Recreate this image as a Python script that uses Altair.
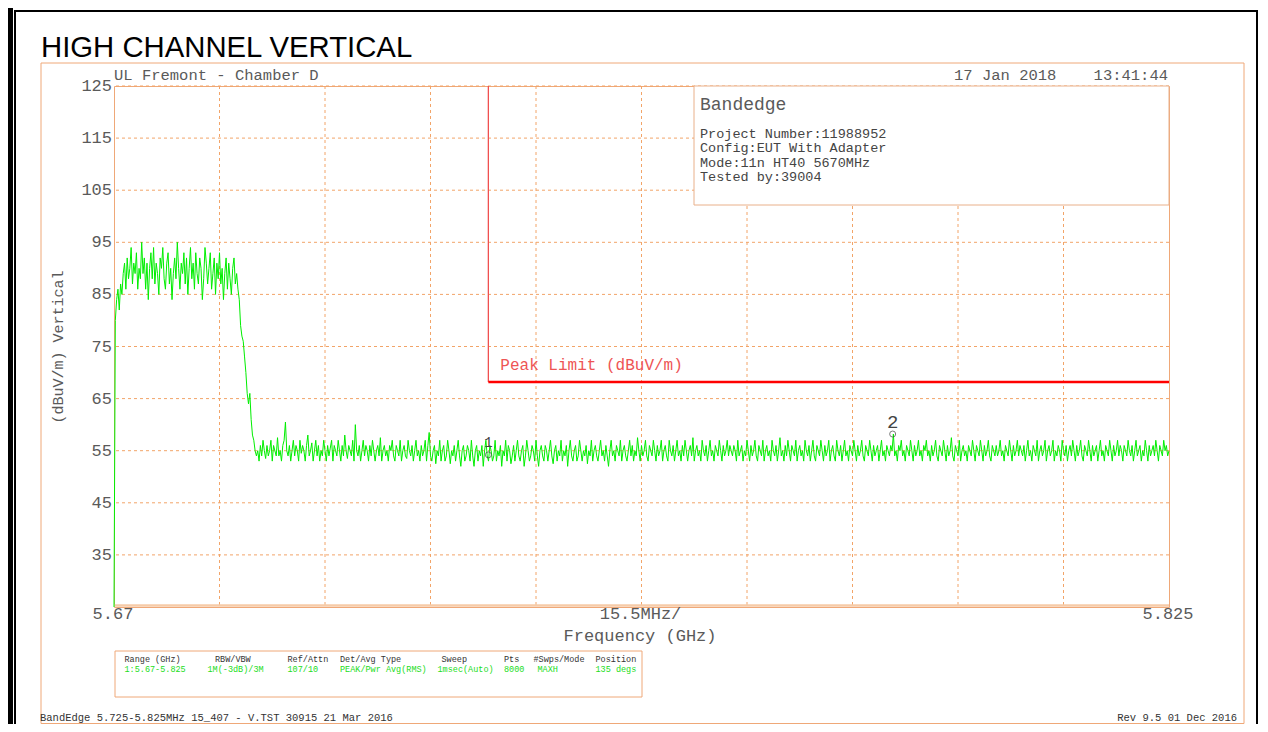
import altair as alt
import pandas as pd

# ---------------- data ----------------
F_START, F_STOP = 5.67, 5.825

inband = [
    25, 80, 84, 86, 82, 87, 85, 89, 91, 86, 92, 88, 90, 94, 87, 91, 89, 93, 86, 90,
    88, 95, 89, 92, 86, 91, 84, 90, 93, 88, 94, 87, 91, 89, 85, 92, 90, 94, 88, 86,
    91, 93, 87, 90, 84, 89, 92, 88, 95, 90, 86, 91, 89, 93, 87, 92, 85, 90, 94, 88,
    91, 86, 93, 89, 87, 92, 90, 84, 88, 94, 91, 87, 90, 93, 86, 89, 92, 85, 91, 88,
    93, 87, 90, 84, 89, 92, 86, 91, 88, 85, 90, 92, 87, 89,
]
rolloff = [86, 84, 79, 77, 76, 73, 70, 66, 64, 66, 61, 58, 57, 55, 54]
floor_rows = [
    [55, 53, 56, 54, 57, 55, 53.5, 56, 54, 55, 57, 53, 56, 55, 54, 57.5, 54, 55, 53, 56],
    [57, 60.5, 55, 54, 56, 53, 55, 57, 54, 56, 55, 53, 57, 54.5, 56, 55, 53, 56, 58, 54],
    [55, 56.5, 53, 55, 57, 54, 56, 53, 55, 54, 57, 55, 53, 56, 54, 55.5, 57, 53, 56, 55],
    [54, 57, 55, 53, 56, 54, 58, 55, 53.5, 56, 55, 54, 57, 53, 60, 55, 54, 56, 53, 55],
    [57, 54, 56, 55, 53, 56, 54, 57, 55, 53, 55, 56, 54, 57.5, 53, 55, 56, 54, 55, 53],
    [56, 55, 57, 54, 53, 56, 55, 54, 57, 53, 55, 56, 54, 53.5, 57, 55, 54, 56, 53, 55],
    [57, 54, 55, 53, 56, 54, 55, 57, 53, 56, 58.5, 54, 53, 55, 56, 52.5, 55, 54, 57, 53],
    [55, 56, 53, 54, 57, 55, 52.5, 55, 54, 56, 53, 55, 57, 54, 52, 55, 56, 53, 54, 56],
    [55, 53, 57, 54, 52, 55, 56, 53, 55, 54, 56, 52, 55, 57, 54, 53, 56, 55, 53, 54],
    [57, 53, 55, 54, 56, 52, 55, 54, 57, 53, 56, 55, 52.5, 54, 56, 53, 55, 57, 54, 53],
    [55, 56, 52, 54, 57, 55, 53, 54, 56, 55, 53, 57, 54, 52, 55, 56, 54, 53, 56, 55],
    [53, 55, 57, 54, 52.5, 55, 56, 53, 55, 54, 57, 53, 55, 54, 56, 52, 55, 57, 54, 53],
    [55, 56, 53, 54, 57, 55, 53, 55, 54, 56, 52.5, 55, 54, 57, 53, 55, 56, 54, 53, 55],
    [57, 54, 55, 53, 56, 54, 52, 55, 57, 54, 55, 53, 56, 55, 54, 57, 53, 55, 56, 54],
    [53, 55, 57, 54, 56, 53, 55, 54, 57.5, 55, 53, 56, 54, 55, 57, 54, 53, 56, 55, 54],
    [57, 55, 53, 56, 54, 55, 57, 53, 55, 56, 54, 53, 57, 55, 54, 56, 53, 55, 57, 54],
    [55, 53, 56, 54, 57, 55, 53, 55, 56, 54, 57.5, 53, 55, 56, 54, 55, 53, 57, 55, 54],
    [56, 53, 55, 57, 54, 55, 53, 56, 55, 54, 57, 55, 53, 56, 54, 55, 57, 54, 56, 55],
    [54, 56, 55, 53, 57, 54, 55, 56, 53, 55, 54, 57, 55, 53, 56, 54, 55, 57, 54, 53],
    [56, 55, 54, 57, 53, 55, 56, 54, 55, 53, 57, 55, 54, 56, 53, 55, 57.5, 54, 55, 53],
    [56, 54, 57, 55, 53, 56, 55, 54, 57, 53, 55, 56, 54, 55, 53, 57, 55, 54, 56, 53],
    [55, 57, 54, 53, 56, 55, 54, 57, 55, 53, 56, 54, 55, 57, 53, 55, 56, 54, 53, 57],
    [55, 54, 56, 53, 55, 57, 54, 55, 53, 56, 55, 54, 57, 55, 53, 56, 54, 55, 57, 54],
    [53, 56, 55, 54, 57, 55, 53, 56, 54, 55, 56, 53, 55, 57, 54, 55, 53, 56, 55, 54],
    [56, 55, 58.2, 54, 55, 53, 56, 55, 57, 54, 55, 53, 56, 55, 54, 57, 55, 53, 56, 54],
    [55, 57, 54, 55, 53, 56, 55, 57, 54, 55, 53, 56, 54, 55, 57, 54, 53, 56, 55, 54],
    [57, 55, 53, 56, 54, 55, 57.5, 54, 53, 56, 55, 54, 57, 53, 55, 56, 54, 55, 53, 56],
    [55, 54, 57, 55, 53, 56, 55, 54, 57, 55, 53, 56, 54, 55, 57, 54, 53, 56, 55, 54],
    [56, 54, 55, 57, 54, 55, 53, 56, 55, 54, 57, 55, 53, 56, 54, 55, 57, 54, 56, 55],
    [54, 56, 53, 55, 57, 54, 55, 53, 56, 55, 54, 57, 53, 55, 56, 54, 55, 57, 53, 55],
    [56, 54, 55, 57, 53, 55, 54, 56, 55, 53, 57, 55, 54, 56, 53, 55, 56, 54, 57, 55],
    [53, 56, 54, 55, 57, 54, 53, 56, 55, 54, 57, 55, 53, 56, 54, 55, 56, 53, 55, 57],
    [54, 55, 53, 56, 55, 54, 57, 55, 53, 56, 54, 55, 57, 54, 56, 55, 53, 56, 55, 54],
    [57, 55, 54, 56, 53, 55, 57, 54, 55, 56, 53, 55, 54, 57, 55, 53, 56, 54, 55, 56],
    [54, 57, 55, 53, 56, 55, 54, 57, 55, 56, 54, 55],
]
levels = inband + rolloff + [v for row in floor_rows for v in row]
N_PTS = len(levels)
freqs = [F_START + i * (F_STOP - F_START) / (N_PTS - 1) for i in range(N_PTS)]

y_ticks = [125, 115, 105, 95, 85, 75, 65, 55, 45, 35]
x_grid = [5.6855, 5.701, 5.7165, 5.732, 5.7475, 5.763, 5.7785, 5.794, 5.8095]
x_label_pos = [5.67, 5.7475, 5.825]
x_labels = ["5.67", "15.5MHz/", "5.825"]

limit_freq = 5.725
limit_level = 68.2
limit_text = "Peak Limit (dBuV/m)"

marker_names = ["1", "2"]
marker_freqs = [5.725, 5.7844]
marker_levels = [54.2, 58.2]

NB = "\u00a0"
title_text = "HIGH CHANNEL VERTICAL"
header_left = "UL Fremont - Chamber D"
header_right = "17 Jan 2018" + NB * 4 + "13:41:44"
info_title = "Bandedge"
info_lines = ["Project Number:11988952", "Config:EUT With Adapter",
              "Mode:11n HT40 5670MHz", "Tested by:39004"]
table_heads = ["Range (GHz)", "RBW/VBW", "Ref/Attn", "Det/Avg Type", "Sweep", "Pts",
               "#Swps/Mode", "Position"]
table_vals = ["1:5.67-5.825", "1M(-3dB)/3M", "107/10", "PEAK/Pwr Avg(RMS)", "1msec(Auto)",
              "8000", "MAXH", "135 degs"]
footer_left = "BandEdge 5.725-5.825MHz 15_407 - V.TST 30915 21 Mar 2016"
footer_right = "Rev 9.5 01 Dec 2016"
y_title = "(dBuV/m) Vertical"
x_title = "Frequency (GHz)"

# ---------------- layout / style ----------------
PX0, PY0 = 114, 86          # page position of plot origin
W, H = 1055, 521
MONO = "Liberation Mono"
ORANGE = "#EFA878"
GRID = "#F2A468"
GREY = "#5a5a5a"
head_x = [124.5, 215, 287.5, 340, 441.5, 504, 533.5, 595.5]
val_x = [124.5, 207.5, 287.5, 340, 437.5, 504, 537.5, 595.5]


def lx(px):
    return px - PX0


def ly(py):
    return py - PY0


ONE = alt.Data(values=[{"k": 0}])
xs = alt.Scale(domain=[F_START, F_STOP], nice=False, zero=False)
ys = alt.Scale(domain=[25, 125], nice=False, zero=False)


def txt(t, px, py, size, color=GREY, align="left", baseline="alphabetic", font=MONO, angle=0):
    return alt.Chart(ONE).mark_text(text=t, align=align, baseline=baseline, font=font,
                                    fontSize=size, color=color, angle=angle).encode(
        x=alt.value(lx(px)), y=alt.value(ly(py)))


def box(x1, y1, x2, y2, stroke, sw=1, fill=None):
    kw = dict(stroke=stroke, strokeWidth=sw)
    if fill is None:
        kw["fillOpacity"] = 0
        kw["fill"] = "white"
    else:
        kw["fill"] = fill
    return alt.Chart(ONE).mark_rect(**kw).encode(
        x=alt.value(lx(x1)), x2=alt.value(lx(x2)), y=alt.value(ly(y1)), y2=alt.value(ly(y2)))


layers = []
# page frames
layers.append(alt.Chart(ONE).mark_rect(color="black").encode(
    x=alt.value(lx(8)), x2=alt.value(lx(13)), y=alt.value(ly(8)), y2=alt.value(ly(724))))
layers.append(box(15, 11, 1257, 729, "black", sw=2))
layers.append(box(41, 63, 1244, 723.5, ORANGE, sw=1))

# grid
layers.append(alt.Chart(pd.DataFrame({"level": y_ticks})).mark_rule(
    color=GRID, strokeDash=[3, 3], strokeWidth=1).encode(
    y=alt.Y("level:Q", scale=ys, axis=None)))
layers.append(alt.Chart(pd.DataFrame({"freq": x_grid})).mark_rule(
    color=GRID, strokeDash=[3, 3], strokeWidth=1).encode(
    x=alt.X("freq:Q", scale=xs, axis=None)))

# info box
layers.append(box(694, 86, 1169, 205, "#E9B08A", sw=1, fill="white"))

# bottom axis line
layers.append(alt.Chart(pd.DataFrame({"level": [25]})).mark_rule(
    color="#F6CBA8", strokeWidth=2.5, yOffset=-1.5).encode(
    y=alt.Y("level:Q", scale=ys, axis=None)))

# trace
trace_df = pd.DataFrame({"freq": freqs, "level": levels})
layers.append(alt.Chart(trace_df).mark_line(color="#00EE00", strokeWidth=1).encode(
    x=alt.X("freq:Q", scale=xs, axis=None),
    y=alt.Y("level:Q", scale=ys, axis=None)))

# limit line
layers.append(alt.Chart(pd.DataFrame({"f": [limit_freq], "top": [125], "bot": [limit_level]}))
              .mark_rule(color="#F05050", strokeWidth=1.3).encode(
    x=alt.X("f:Q", scale=xs, axis=None), y=alt.Y("top:Q", scale=ys, axis=None), y2="bot:Q"))
layers.append(alt.Chart(pd.DataFrame({"f": [limit_freq], "f2": [F_STOP], "lv": [limit_level]}))
              .mark_rule(color="#FF0000", strokeWidth=2.4).encode(
    x=alt.X("f:Q", scale=xs, axis=None), x2="f2:Q", y=alt.Y("lv:Q", scale=ys, axis=None)))
layers.append(alt.Chart(pd.DataFrame({"f": [limit_freq], "lv": [limit_level], "t": [limit_text]}))
              .mark_text(align="left", baseline="alphabetic", dx=12, dy=-12, font=MONO,
                         fontSize=16, color="#EE5555").encode(
    x=alt.X("f:Q", scale=xs, axis=None), y=alt.Y("lv:Q", scale=ys, axis=None), text="t:N"))

# markers
mk_df = pd.DataFrame({"name": marker_names, "freq": marker_freqs, "level": marker_levels})
layers.append(alt.Chart(mk_df).mark_point(shape="circle", filled=False, size=36, color="#444",
                                          strokeWidth=1).encode(
    x=alt.X("freq:Q", scale=xs, axis=None), y=alt.Y("level:Q", scale=ys, axis=None)))
for i, sz in enumerate([14, 19]):
    layers.append(alt.Chart(mk_df.iloc[[i]]).mark_text(
        font=MONO, fontSize=sz, color="#444", baseline="middle", dy=-12).encode(
        x=alt.X("freq:Q", scale=xs, axis=None), y=alt.Y("level:Q", scale=ys, axis=None),
        text="name:N"))

# axis labels
layers.append(alt.Chart(pd.DataFrame({"level": y_ticks, "t": [str(v) for v in y_ticks]}))
              .mark_text(align="right", baseline="middle", font=MONO, fontSize=17, color=GREY)
              .encode(x=alt.value(-2), y=alt.Y("level:Q", scale=ys, axis=None), text="t:N"))
layers.append(alt.Chart(pd.DataFrame({"freq": x_label_pos, "t": x_labels}))
              .mark_text(align="center", baseline="middle", font=MONO, fontSize=17, color=GREY,
                         dx=-1)
              .encode(x=alt.X("freq:Q", scale=xs, axis=None), y=alt.value(ly(613.5)), text="t:N"))
layers.append(txt(x_title, 640, 636, 17, baseline="middle", align="center"))
layers.append(txt(y_title, 58, 347, 15, baseline="middle", align="center", angle=270))

# titles / headers
layers.append(txt(title_text, 41, 57, 29.3, color="black", font="Liberation Sans"))
layers.append(txt(header_left, 114, 79.5, 15.5))
layers.append(txt(header_right, 1168, 79.5, 15.5, align="right"))

# info box text
layers.append(txt(info_title, 700, 110, 18))
for k, line in enumerate(info_lines):
    layers.append(txt(line, 700, 138 + 14.4 * k, 13.5, color="#444"))

# settings table
layers.append(box(115, 651, 642, 697, ORANGE, sw=1))
for hx, h in zip(head_x, table_heads):
    layers.append(txt(h, hx, 662, 8.5, color="#333"))
for vx, v in zip(val_x, table_vals):
    layers.append(txt(v, vx, 672, 8.5, color="#22DD22"))

# footer
layers.append(txt(footer_left, 40, 721, 10.5, color="#333"))
layers.append(txt(footer_right, 1237, 721, 10.5, color="#333", align="right"))

chart = alt.layer(*layers).properties(
    width=W, height=H,
    autosize=alt.AutoSizeParams(type="none"),
    padding={"left": PX0 - 8, "top": PY0 - 8, "right": 1252 - (PX0 - 8) - W,
             "bottom": 716 - (PY0 - 8) - H},
    background="white",
).configure_view(stroke=ORANGE, strokeWidth=1)

chart.save("out.html", embed_options={"renderer": "svg", "actions": False})
